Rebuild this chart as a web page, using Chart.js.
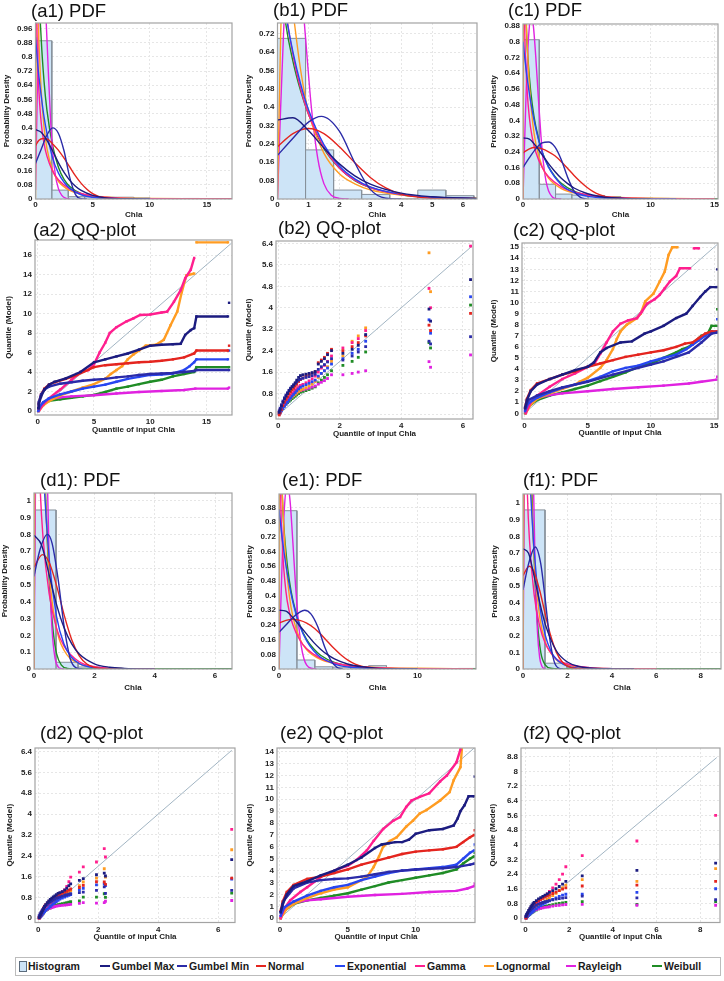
<!DOCTYPE html>
<html><head><meta charset="utf-8">
<script src="https://cdn.jsdelivr.net/npm/chart.js@4.4.1/dist/chart.umd.min.js"></script>
<style>
html,body{margin:0;padding:0;background:#fff}
body{width:724px;height:981px;position:relative;overflow:hidden;font-family:"Liberation Sans",Arial,sans-serif}
canvas{position:absolute}
.ttl{position:absolute;font-size:18.5px;line-height:1;color:#111;white-space:nowrap}
.lg{position:absolute;font-size:10.5px;font-weight:bold;color:#1a1a1a;white-space:nowrap;line-height:1}
.ln{position:absolute;width:10px;height:2px}
</style></head><body>
<script>
// ---------------- DATA ----------------
const seriesNames = ['Gumbel Max','Gumbel Min','Normal','Exponential','Gamma','Lognormal','Rayleigh','Weibull'];
const titles = ['(a1) PDF','(b1) PDF','(c1) PDF','(a2) QQ-plot','(b2) QQ-plot','(c2) QQ-plot','(d1): PDF','(e1): PDF','(f1): PDF','(d2) QQ-plot','(e2) QQ-plot','(f2) QQ-plot'];

// tick labels
const ticksPdf96 = [0,0.08,0.16,0.24,0.32,0.4,0.48,0.56,0.64,0.72,0.8,0.88,0.96];
const ticksPdf72 = [0,0.08,0.16,0.24,0.32,0.4,0.48,0.56,0.64,0.72];
const ticksPdf88 = [0,0.08,0.16,0.24,0.32,0.4,0.48,0.56,0.64,0.72,0.8,0.88];
const ticksPdf1 = [0,0.1,0.2,0.3,0.4,0.5,0.6,0.7,0.8,0.9,1];
const ticksX5 = [0,5,10,15];
const ticksX5b = [0,5,10];
const ticksX1 = [0,1,2,3,4,5,6];
const ticksX2 = [0,2,4,6];
const ticksX2b = [0,2,4,6,8];
const ticksQa = [0,2,4,6,8,10,12,14,16];
const ticksQb = [0,0.8,1.6,2.4,3.2,4,4.8,5.6,6.4];
const ticksQc = [0,1,2,3,4,5,6,7,8,9,10,11,12,13,14,15];
const ticksQe = [0,1,2,3,4,5,6,7,8,9,10,11,12,13,14];
const ticksQf = [0,0.8,1.6,2.4,3.2,4,4.8,5.6,6.4,7.2,8,8.8];

// ---- (a1) PDF ----
const a1Edges = [0,1.43,2.87,4.3,5.73,7.17,8.6,10.03,11.47,12.9,14.33,15.77,17.2];
const a1Hist = [0.89,0.05,0.013,0.012,0.01,0.01,0.006,0.002,0.002,0.003,0.002,0.002];
const a1GMax = [[0,0.39],[0.5,0.375],[1,0.33],[1.5,0.27],[2,0.205],[2.5,0.15],[3,0.105],[3.5,0.072],[4,0.048],[5,0.02],[6,0.008],[7,0.003],[8,0.001],[10,0]];
const a1GMin = [[0,0.2],[0.5,0.28],[1,0.36],[1.5,0.4],[2,0.37],[2.5,0.27],[3,0.12],[3.5,0.025],[4,0.002],[4.5,0]];
const a1Norm = [[0,0.3],[0.3,0.33],[0.7,0.34],[1.1,0.335],[1.5,0.31],[2,0.275],[2.5,0.23],[3,0.18],[3.5,0.13],[4,0.088],[4.5,0.055],[5,0.03],[5.5,0.015],[6,0.007],[7,0.001],[8,0]];
const a1Exp = [[0,0.91],[0.25,0.72],[0.5,0.58],[0.75,0.46],[1,0.37],[1.5,0.23],[2,0.147],[2.5,0.094],[3,0.06],[4,0.024],[5,0.01],[6,0.004],[8,0.0006],[10,0]];
const a1Gam = [[0.02,2.67],[0.1,1.15],[0.25,0.68],[0.5,0.429],[0.75,0.312],[1,0.241],[1.5,0.157],[2,0.108],[3,0.056],[4,0.031],[5,0.0175],[6,0.0102],[8,0.0035],[10,0.0013],[14,0.0002],[17.2,0]];
const a1Logn = [[0,0],[0.05,0.97],[0.1,1.18],[0.2,1.07],[0.3,0.883],[0.5,0.607],[0.75,0.404],[1,0.285],[1.5,0.161],[2,0.1],[3,0.048],[4,0.027],[5,0.0165],[7,0.0075],[10,0.003],[14,0.0012],[17.2,0.0006]];
const a1Rayl = [[0,0.05],[0.1,0.4],[0.2,0.75],[0.3,1.02],[0.5,1.3],[0.7,1.25],[0.9,1.05],[1.1,0.75],[1.3,0.47],[1.5,0.27],[1.75,0.13],[2,0.06],[2.3,0.02],[2.7,0.003],[3,0]];
const a1Weib = [[0.02,3],[0.1,1.9],[0.25,1.3],[0.5,0.9],[0.75,0.66],[1,0.5],[1.5,0.3],[2,0.18],[2.5,0.11],[3,0.07],[4,0.03],[5,0.013],[6,0.006],[8,0.0015],[10,0.0004],[17.2,0]];

// ---- (b1) PDF ----
const b1Edges = [0,0.907,1.814,2.721,3.629,4.536,5.443,6.35];
const b1Hist = [0.7,0.214,0.039,0.02,0,0.039,0.0145];
const b1GMax = [[0,0.344],[0.5,0.354],[1,0.298],[1.5,0.222],[2,0.153],[2.5,0.101],[3,0.065],[4,0.0254],[5,0.0097],[6.45,0.0025]];
const b1GMin = [[0,0.19],[0.5,0.265],[1,0.335],[1.42,0.36],[2,0.296],[2.5,0.158],[3,0.042],[3.5,0.0035],[4,0]];
const b1Norm = [[0,0.228],[0.5,0.285],[1,0.307],[1.5,0.285],[2,0.228],[2.5,0.158],[3,0.094],[3.5,0.048],[4,0.021],[5,0.0027],[6,0]];
const b1Exp = [[0,1.05],[0.25,0.82],[0.5,0.64],[0.75,0.5],[1,0.39],[1.5,0.237],[2,0.144],[2.5,0.088],[3,0.053],[4,0.02],[5,0.0072],[6.45,0.0017]];
const b1Gam = [[0.02,2],[0.1,1.25],[0.25,0.87],[0.5,0.63],[0.75,0.48],[1,0.37],[1.5,0.225],[2,0.135],[2.5,0.082],[3,0.05],[4,0.019],[5,0.007],[6.45,0.0018]];
const b1Logn = [[0,0],[0.1,0.7],[0.2,1.05],[0.35,1],[0.5,0.82],[0.75,0.56],[1,0.38],[1.5,0.2],[2,0.11],[2.5,0.066],[3,0.04],[4,0.017],[5,0.008],[6.45,0.0035]];
const b1Rayl = [[0,0],[0.05,0.199],[0.1,0.392],[0.2,0.738],[0.3,1],[0.5,1.213],[0.7,1.05],[0.9,0.713],[1.1,0.392],[1.3,0.178],[1.5,0.067],[1.75,0.015],[2,0.003],[2.3,0]];
const b1Weib = [[0.02,1.3],[0.1,0.98],[0.25,0.78],[0.5,0.6],[0.75,0.47],[1,0.37],[1.5,0.22],[2,0.135],[2.5,0.08],[3,0.05],[4,0.018],[5,0.007],[6.45,0.002]];

// ---- (c1) PDF ----
const c1Edges = [0,1.275,2.55,3.825,5.1,6.375,7.65,8.925,10.2,11.475,12.75,14.025,15.3];
const c1Hist = [0.81,0.075,0.025,0.02,0.018,0.012,0.005,0.004,0.003,0,0,0.001];
const c1GMax = [[0,0.31],[0.5,0.305],[1,0.27],[1.5,0.225],[2,0.18],[2.5,0.14],[3,0.105],[3.5,0.078],[4,0.056],[5,0.028],[6,0.013],[7,0.006],[8,0.0025],[10,0]];
const c1GMin = [[0,0.16],[0.5,0.21],[1,0.255],[1.5,0.285],[2,0.29],[2.5,0.265],[3,0.2],[3.5,0.11],[4,0.04],[4.5,0.008],[5,0]];
const c1Norm = [[0,0.235],[0.5,0.255],[0.9,0.262],[1.5,0.255],[2,0.24],[2.5,0.22],[3,0.19],[3.5,0.155],[4,0.12],[4.5,0.088],[5,0.06],[5.5,0.038],[6,0.022],[6.5,0.012],[7,0.006],[8,0.001],[9,0]];
const c1Exp = [[0,0.8],[0.25,0.655],[0.5,0.536],[1,0.359],[1.5,0.241],[2,0.162],[3,0.073],[4,0.033],[5,0.0147],[6,0.0066],[8,0.0013],[10,0.0003],[12,0]];
const c1Gam = [[0.02,2.5],[0.1,1.085],[0.25,0.646],[0.5,0.413],[0.75,0.305],[1,0.239],[1.5,0.16],[2,0.113],[3,0.062],[4,0.036],[5,0.0216],[6,0.0132],[8,0.0052],[10,0.0021],[15,0.0006]];
const c1Logn = [[0,0],[0.05,0.93],[0.1,1.09],[0.2,0.99],[0.3,0.825],[0.5,0.577],[0.75,0.393],[1,0.283],[1.5,0.165],[2,0.106],[3,0.053],[4,0.0308],[5,0.0195],[7,0.0093],[10,0.004],[15,0.0014]];
const c1Rayl = [[0,0],[0.1,0.234],[0.25,0.55],[0.4,0.783],[0.55,0.91],[0.65,0.934],[0.8,0.888],[1,0.724],[1.2,0.517],[1.4,0.326],[1.6,0.183],[1.8,0.092],[2,0.042],[2.3,0.0104],[2.6,0.0016],[3,0]];
const c1Weib = [[0.02,2.2],[0.1,1.35],[0.25,0.9],[0.5,0.62],[0.75,0.47],[1,0.37],[1.5,0.24],[2,0.165],[2.5,0.115],[3,0.08],[4,0.04],[5,0.02],[6,0.01],[8,0.003],[10,0.001],[15.3,0]];

// ---- (d1) PDF ----
const d1Edges = [0,0.73,1.46,2.19,2.92,3.65,4.38,5.11,5.84,6.56];
const d1Hist = [0.945,0.04,0.012,0.004,0.002,0,0,0,0.003];
const d1GMax = [[0,0.795],[0.25,0.737],[0.5,0.561],[0.75,0.381],[1,0.243],[1.25,0.149],[1.5,0.089],[2,0.031],[2.5,0.0105],[3,0.0036],[4,0]];
const d1GMin = [[0,0.55],[0.2,0.71],[0.44,0.8],[0.6,0.747],[0.8,0.533],[1,0.25],[1.2,0.061],[1.4,0.006],[1.6,0]];
const d1Norm = [[0,0.605],[0.28,0.68],[0.5,0.634],[0.75,0.494],[1,0.32],[1.25,0.174],[1.5,0.0785],[1.75,0.0297],[2,0.0093],[2.5,0.0005],[3,0]];
const d1Exp = [[0,3],[0.1,2.2],[0.25,1.41],[0.5,0.66],[0.75,0.31],[1,0.145],[1.25,0.068],[1.5,0.032],[2,0.007],[2.5,0.0015],[3,0]];
const d1Gam = [[0.01,6],[0.05,2.7],[0.1,1.8],[0.2,1.1],[0.3,0.78],[0.5,0.45],[0.75,0.24],[1,0.135],[1.5,0.043],[2,0.014],[3,0.0015],[4,0]];
const d1Logn = [[0,0],[0.05,2.23],[0.1,2.98],[0.2,2.2],[0.3,1.4],[0.5,0.593],[0.75,0.239],[1,0.11],[1.5,0.0314],[2,0.0114],[3,0.0023],[4,0.0006]];
const d1Rayl = [[0,0],[0.02,0.451],[0.05,1.1],[0.1,2.02],[0.21,2.89],[0.3,2.46],[0.4,1.48],[0.5,0.667],[0.6,0.23],[0.7,0.062],[0.8,0.013],[0.9,0.002],[1,0]];
const d1Weib = [[0,0],[0.03,1.2],[0.08,2],[0.15,2.3],[0.25,1.8],[0.35,1.2],[0.45,0.72],[0.55,0.4],[0.65,0.2],[0.75,0.09],[0.9,0.025],[1.1,0.004],[1.5,0],[6.56,0]];

// ---- (e1) PDF ----
const e1Edges = [0,1.293,2.586,3.879,5.172,6.465,7.758,9.051,10.344,11.637,12.93,14.22];
const e1Hist = [0.862,0.049,0.012,0.01,0.006,0.018,0.003,0.002,0.001,0.002,0.003];
const e1GMax = [[0,0.32],[0.5,0.315],[1,0.28],[1.5,0.235],[2,0.19],[2.5,0.145],[3,0.108],[3.5,0.078],[4,0.055],[5,0.026],[6,0.012],[7,0.005],[8,0.002],[10,0]];
const e1GMin = [[0,0.2],[0.5,0.24],[1,0.28],[1.5,0.31],[1.85,0.32],[2.3,0.3],[2.8,0.23],[3.3,0.12],[3.8,0.04],[4.2,0.008],[4.6,0]];
const e1Norm = [[0,0.25],[0.5,0.265],[1,0.27],[1.5,0.265],[2,0.25],[2.5,0.225],[3,0.19],[3.5,0.15],[4,0.11],[4.5,0.075],[5,0.047],[5.5,0.027],[6,0.014],[7,0.003],[8,0]];
const e1Exp = [[0,0.87],[0.25,0.7],[0.5,0.565],[1,0.365],[1.5,0.236],[2,0.153],[2.5,0.099],[3,0.064],[4,0.027],[5,0.011],[6,0.0047],[8,0.0008],[10,0]];
const e1Gam = [[0.02,2.61],[0.1,1.126],[0.25,0.667],[0.5,0.423],[0.75,0.31],[1,0.241],[1.5,0.158],[2,0.11],[3,0.058],[4,0.0327],[5,0.0189],[6,0.0112],[8,0.0041],[10,0.0015],[14,0.0003]];
const e1Logn = [[0,0],[0.05,0.95],[0.1,1.12],[0.2,1.01],[0.3,0.84],[0.5,0.585],[0.75,0.397],[1,0.285],[1.5,0.165],[2,0.105],[3,0.052],[4,0.03],[5,0.019],[7,0.009],[10,0.0038],[14,0.0015]];
const e1Rayl = [[0,0],[0.1,0.274],[0.25,0.637],[0.4,0.89],[0.6,1.011],[0.8,0.914],[1,0.692],[1.2,0.45],[1.4,0.255],[1.6,0.127],[1.8,0.056],[2,0.0215],[2.3,0.004],[2.7,0]];
const e1Weib = [[0.02,2.3],[0.1,1.4],[0.25,0.93],[0.5,0.64],[0.75,0.48],[1,0.375],[1.5,0.24],[2,0.16],[2.5,0.11],[3,0.075],[4,0.036],[5,0.018],[6,0.009],[8,0.0025],[10,0.0008],[14.22,0]];

// ---- (f1) PDF ----
const f1Edges = [0,0.99,1.98,2.97,3.96,4.95,5.94,6.93,7.92,8.91];
const f1Hist = [0.96,0.035,0.01,0.004,0.002,0.001,0,0,0.002];
const f1GMax = [[0,0.726],[0.25,0.698],[0.5,0.56],[0.75,0.403],[1,0.271],[1.5,0.11],[2,0.042],[2.5,0.016],[3,0.006],[4,0.0008],[5,0]];
const f1GMin = [[0,0.477],[0.25,0.634],[0.55,0.736],[0.8,0.634],[1,0.42],[1.2,0.187],[1.4,0.046],[1.6,0.005],[1.8,0]];
const f1Norm = [[0,0.564],[0.28,0.62],[0.5,0.585],[0.75,0.475],[1,0.331],[1.25,0.199],[1.5,0.102],[1.75,0.0455],[2,0.0173],[2.5,0.0016],[3,0]];
const f1Exp = [[0,2.5],[0.1,1.947],[0.25,1.338],[0.5,0.716],[0.75,0.383],[1,0.205],[1.25,0.11],[1.5,0.059],[2,0.0168],[2.5,0.0048],[3,0.0014],[4,0]];
const f1Gam = [[0.01,5.5],[0.05,2.5],[0.1,1.7],[0.2,1.05],[0.3,0.76],[0.5,0.45],[0.75,0.26],[1,0.155],[1.5,0.06],[2,0.03],[3,0.008],[4,0.0025],[5,0.0008],[6,0]];
const f1Logn = [[0,0],[0.05,1.71],[0.1,2.4],[0.2,1.99],[0.3,1.39],[0.5,0.685],[0.75,0.318],[1,0.165],[1.5,0.056],[2,0.0233],[3,0.0058],[4,0.0019],[6,0.0003]];
const f1Rayl = [[0,0],[0.02,0.377],[0.05,0.923],[0.1,1.72],[0.23,2.64],[0.35,2.08],[0.45,1.26],[0.55,0.597],[0.65,0.226],[0.75,0.069],[0.85,0.017],[1,0]];
const f1Weib = [[0,0],[0.03,1],[0.08,1.8],[0.15,2.1],[0.25,1.8],[0.35,1.3],[0.45,0.85],[0.55,0.5],[0.65,0.28],[0.8,0.1],[1,0.025],[1.3,0.003],[1.6,0],[8.91,0]];

// ---- (a2) QQ ----  [input quantile, model quantile]; null marks a break
const a2Diag = [0,17.2];
const a2GMax = [[0.05,0.3],[0.1,0.7],[0.3,1.5],[0.6,2.2],[1,2.7],[1.5,3],[2.5,3.35],[3.8,4],[5,5],[6,5.3],[7,5.6],[8,5.9],[9,6.3],[10,6.7],[11,6.8],[12,6.85],[12.7,6.9],[13.1,7.8],[13.6,8.3],[13.9,8.5],[14.1,9.7],[16.9,9.7],[16.95,null],[17,11.1]];
const a2GMin = [[0.05,0.3],[0.1,0.9],[0.3,1.7],[0.6,2.2],[1,2.5],[2,2.8],[3,2.95],[4,3.1],[5,3.2],[6,3.3],[7,3.45],[8,3.55],[9,3.7],[10,3.8],[11,3.85],[12,3.9],[13,4],[13.9,4.1],[14.1,4.2],[17,4.2]];
const a2Norm = [[0.05,0.3],[0.1,0.8],[0.3,1.7],[0.6,2.3],[1,2.7],[1.5,2.95],[2.5,3.3],[3.5,3.7],[5,4.5],[6,4.7],[7,4.8],[8,4.9],[9,5],[10,5.05],[11,5.15],[12,5.3],[13,5.5],[13.9,5.9],[14.1,6.2],[16.9,6.2],[16.95,null],[17,6.7]];
const a2Exp = [[0.05,0],[0.2,0.5],[0.5,0.9],[1,1.3],[2,1.7],[3,2],[4,2.3],[5,2.5],[6,2.7],[7,3],[8,3.3],[9,3.5],[10,3.7],[11,3.75],[12,3.85],[13,4.2],[13.5,4.6],[13.9,5],[14.1,5.3],[16.9,5.3],[16.95,null],[17,6.2]];
const a2Gam = [[0.1,0],[0.5,0.7],[1,1.3],[2,2.2],[3,3.2],[3.8,4],[4.5,4.2],[5,4.8],[5.5,6],[6,7],[6.4,8],[7,8.6],[7.9,9.2],[8.5,9.5],[9.1,9.85],[10,9.9],[11,10.1],[11.5,10.2],[12.1,11.2],[12.7,12.4],[13.1,13.6],[13.6,14.5],[13.9,15.7]];
const a2Logn = [[0.1,0],[0.5,0.6],[1,1],[2,1.6],[3,2],[4,2.4],[5,2.75],[6,3.3],[6.5,3.8],[7,4.2],[7.5,4.6],[8,5.3],[8.5,5.8],[9,6.2],[9.6,6.7],[10.5,6.8],[11.2,7.3],[11.8,8.8],[12.4,10.2],[12.8,12.2],[13.2,13.9],[13.9,14.1],[14,null],[14.1,17.3],[16.9,17.3]];
const a2Rayl = [[0.05,0],[0.2,0.5],[0.5,0.9],[1,1.2],[2,1.4],[3,1.5],[5,1.62],[7,1.8],[9,1.95],[11,2.05],[13,2.15],[14,2.3],[16.9,2.3],[16.95,null],[17,2.4]];
const a2Weib = [[0.05,0],[0.2,0.4],[0.5,0.8],[1,1.05],[2,1.2],[3,1.35],[4,1.5],[5,1.65],[6,1.95],[7,2.3],[8,2.5],[9,2.75],[10,3],[11,3.2],[12,3.55],[13,3.8],[13.9,4],[14.1,4.5],[17,4.5]];

// ---- (b2) QQ ---- common input quantiles, one model-quantile list per distribution
const b2X = [0.03,0.06,0.1,0.15,0.2,0.25,0.3,0.35,0.4,0.45,0.5,0.55,0.6,0.66,0.72,0.8,0.9,1,1.1,1.2,1.3,1.4,1.5,1.6,1.73,2.1,2.4,2.6,2.84,4.9,4.95,6.25];
const b2Diag = [0,6.3];
const b2GMax = [0.1,0.2,0.33,0.47,0.6,0.7,0.8,0.9,0.98,1.05,1.12,1.2,1.3,1.4,1.47,1.5,1.52,1.55,1.58,1.62,1.9,2,2.1,2.25,2.4,2.3,2.45,2.6,3,3.95,3.5,5.05];
const b2GMin = [0.15,0.25,0.38,0.52,0.64,0.74,0.83,0.92,1,1.06,1.12,1.18,1.24,1.3,1.34,1.37,1.4,1.43,1.47,1.52,1.7,1.8,1.88,1.98,2.1,2.05,2.2,2.35,2.55,2.75,2.65,2.92];
const b2Norm = [0,0.08,0.2,0.35,0.48,0.58,0.68,0.78,0.86,0.94,1,1.08,1.15,1.25,1.32,1.38,1.45,1.5,1.56,1.62,1.95,2.05,2.15,2.3,2.45,2.4,2.55,2.7,2.95,3.35,3.15,3.79];
const b2Exp = [0.03,0.08,0.15,0.24,0.32,0.4,0.48,0.56,0.63,0.7,0.77,0.83,0.9,0.97,1.03,1.08,1.13,1.18,1.24,1.3,1.45,1.55,1.65,1.75,1.9,2.1,2.3,2.45,2.75,3.55,3.05,4.41];
const b2Gam = [0.05,0.12,0.22,0.33,0.42,0.5,0.58,0.66,0.73,0.8,0.86,0.92,0.98,1.05,1.1,1.14,1.2,1.27,1.35,1.45,1.6,1.75,1.85,2,2.2,2.5,2.7,2.85,3.15,4.72,4,6.3];
const b2Logn = [0.08,0.15,0.24,0.32,0.39,0.45,0.51,0.57,0.62,0.67,0.72,0.77,0.82,0.88,0.93,0.97,1.02,1.08,1.15,1.25,1.4,1.55,1.65,1.8,2,2.2,2.75,2.95,3.25,6.05,4.6,null];
const b2Rayl = [0.12,0.2,0.28,0.36,0.43,0.49,0.55,0.6,0.65,0.7,0.75,0.79,0.83,0.87,0.91,0.94,0.97,1,1.04,1.08,1.15,1.22,1.28,1.36,1.5,1.5,1.55,1.6,1.65,1.99,1.78,2.24];
const b2Weib = [0.1,0.16,0.23,0.3,0.36,0.41,0.46,0.51,0.56,0.61,0.66,0.7,0.75,0.8,0.85,0.88,0.91,0.95,1,1.05,1.2,1.3,1.4,1.5,1.65,1.85,2,2.15,2.35,2.7,2.5,4.1];

// ---- (c2) QQ ----
const c2Diag = [0,15.25];
const c2GMax = [[0.05,0.5],[0.2,1.2],[0.5,2],[1,2.6],[2,3.1],[3,3.5],[4,3.9],[5,4.2],[5.5,4.6],[6,5.5],[6.5,5.9],[7.6,6.4],[8.5,6.5],[9.5,7.2],[10,7.4],[11,7.9],[12,8.6],[12.8,9],[13.3,9.7],[13.9,10.5],[14.3,11],[14.7,11.4],[15.2,11.4],[15.22,null],[15.25,13]];
const c2GMin = [[0.05,0.4],[0.3,1.2],[1,1.6],[2,2],[3,2.35],[5,2.85],[7,3.5],[9,4.1],[10,4.4],[11,4.7],[12,5.1],[13,5.5],[14,6.4],[14.8,7.2],[15.25,7.3]];
const c2Norm = [[0.05,0.5],[0.2,1.3],[0.5,2.1],[1,2.7],[2,3.1],[3,3.5],[4,3.8],[5,4.2],[6,4.5],[7,4.8],[8,5.1],[9,5.3],[10,5.5],[11,5.7],[12,6],[12.7,6.3],[13.3,6.4],[13.8,6.8],[14.3,7.2],[14.8,7.4],[15.25,7.4]];
const c2Exp = [[0.05,0.2],[0.3,0.9],[1,1.4],[2,1.9],[3,2.3],[4,2.6],[5,2.9],[6,3.3],[7,3.8],[8,4.1],[9,4.3],[10,4.7],[11,5],[12,5.3],[12.8,5.8],[13.3,6.2],[13.8,6.6],[14.3,7],[14.8,7.4],[15.2,7.4],[15.22,null],[15.25,8.5]];
const c2Gam = [[0.1,0],[0.5,1],[1,1.6],[2,2.4],[3,3.1],[4,3.6],[5,4.2],[5.5,4.4],[6,5.4],[6.5,6.4],[7,7.4],[7.6,8.1],[8.2,8.4],[8.9,8.6],[9.3,9.2],[9.7,9.9],[10.3,10.3],[10.7,10.7],[11.1,11.3],[11.5,11.9],[12,12.4],[12.3,13.1],[13.1,13.1],[13.25,null],[13.4,14.9],[13.8,14.9]];
const c2Logn = [[0.1,0],[0.5,0.8],[1,1.3],[2,1.8],[3,2.2],[4,2.6],[4.4,2.86],[5,3.2],[6,4.1],[6.5,4.8],[7,5.8],[7.3,6.7],[7.6,7.4],[8.1,8],[8.9,8.6],[9.2,9],[9.55,10.1],[10.2,10.8],[10.7,11.9],[11.1,12.8],[11.4,14.3],[11.7,15],[12.1,15]];
const c2Rayl = [[0.05,0.2],[0.3,0.9],[1,1.4],[2,1.65],[3,1.8],[5,2],[7,2.2],[9,2.35],[11,2.5],[13,2.7],[14,2.85],[15.2,3.05],[15.22,null],[15.25,3.3]];
const c2Weib = [[0.05,0],[0.3,0.6],[1,1.2],[2,1.6],[3,1.9],[4,2.2],[5,2.5],[6,2.9],[7,3.3],[8,3.7],[9,4.2],[10,4.5],[11,5],[12,5.5],[12.5,5.8],[13,6],[13.5,6.5],[14,7],[14.5,7.2],[14.8,7.9],[15.2,7.9],[15.22,null],[15.25,9.4]];

// ---- (d2) QQ ----
const d2X = [0.03,0.06,0.09,0.12,0.15,0.18,0.21,0.25,0.3,0.35,0.4,0.45,0.5,0.55,0.6,0.66,0.72,0.8,0.88,0.95,1.02,1.08,1.37,1.5,1.94,2.2,2.24,6.45];
const d2Diag = [0,6.45];
const d2GMax = [0.02,0.08,0.15,0.22,0.3,0.38,0.45,0.52,0.6,0.66,0.72,0.77,0.82,0.86,0.9,0.95,0.98,1.02,1.08,1.15,1.25,1.32,1.45,1.52,1.67,1.73,1.62,2.25];
const d2GMin = [0.1,0.16,0.22,0.28,0.33,0.38,0.43,0.48,0.53,0.58,0.62,0.66,0.7,0.73,0.76,0.79,0.82,0.85,0.88,0.9,0.92,0.94,0.98,1,1.07,1.2,0.95,1.07];
const d2Norm = [0,0.1,0.18,0.26,0.33,0.4,0.46,0.52,0.58,0.63,0.68,0.72,0.76,0.8,0.84,0.88,0.91,0.95,0.99,1.03,1.08,1.12,1.18,1.26,1.4,1.39,1.3,1.54];
const d2Exp = [0,0.04,0.08,0.12,0.17,0.21,0.25,0.3,0.35,0.4,0.45,0.5,0.55,0.6,0.64,0.69,0.73,0.77,0.81,0.85,0.88,0.91,1.08,1.15,1.28,1.32,1.25,1.5];
const d2Gam = [0,0.05,0.1,0.16,0.22,0.28,0.34,0.4,0.47,0.53,0.6,0.66,0.72,0.78,0.84,0.9,0.96,1.02,1.1,1.22,1.4,1.58,1.77,1.97,2.16,2.67,2.35,3.41];
const d2Logn = [0.02,0.05,0.09,0.13,0.17,0.21,0.25,0.3,0.36,0.42,0.48,0.54,0.6,0.66,0.72,0.78,0.83,0.88,0.93,0.98,1.02,1.06,1.25,1.39,1.54,1.9,1.58,2.63];
const d2Rayl = [0.05,0.09,0.13,0.17,0.21,0.25,0.28,0.31,0.34,0.37,0.39,0.41,0.43,0.45,0.46,0.47,0.48,0.49,0.5,0.51,0.52,0.53,0.57,0.6,0.58,0.6,0.65,0.68];
const d2Weib = [0.02,0.06,0.1,0.14,0.18,0.22,0.26,0.3,0.34,0.37,0.4,0.43,0.46,0.48,0.5,0.52,0.54,0.56,0.58,0.6,0.62,0.63,0.66,0.81,0.81,0.94,0.8,0.96];

// ---- (e2) QQ ----
const e2Diag = [0,14.3];
const e2GMax = [[0.05,0.5],[0.2,1.2],[0.5,2],[1,2.7],[2,3.1],[3,3.6],[4,4],[5,4.5],[6,5.1],[7,5.9],[7.5,6.2],[8,6.3],[8.5,6.4],[9,6.4],[9.5,6.6],[10,7.1],[11,7.4],[12,7.5],[12.8,7.8],[13.1,8.4],[13.3,9],[13.6,9.5],[13.9,10.25],[14.3,10.25],[14.32,null],[14.35,11.9]];
const e2GMin = [[0.05,0.5],[0.3,1.5],[1,2.5],[2,3],[3,3.2],[4,3.3],[5,3.35],[6,3.5],[7,3.7],[8,3.9],[9,4],[10,4.1],[11,4.15],[12,4.2],[13,4.3],[14,4.5],[14.35,4.6]];
const e2Norm = [[0.05,0.6],[0.2,1.4],[0.5,2.2],[1,2.8],[2,3.3],[3,3.5],[4,3.8],[5,4.1],[6,4.5],[7,4.8],[8,5.1],[9,5.4],[10,5.6],[11,5.7],[12,5.8],[13,6],[13.5,6.4],[14,6.8],[14.3,7],[14.32,null],[14.35,7.4]];
const e2Exp = [[0.05,0.2],[0.3,0.9],[1,1.4],[2,1.9],[3,2.3],[4,2.6],[5,2.8],[6,3.2],[7,3.5],[8,3.8],[9,4],[10,4.1],[11,4.2],[12,4.3],[13,4.5],[13.5,5],[14,5.5],[14.3,5.7],[14.32,null],[14.35,6.2]];
const e2Gam = [[0.05,0],[0.3,0.8],[0.75,1.5],[1.5,2.2],[2,2.6],[3.2,3.6],[4.4,4.2],[5,4.4],[5.65,4.9],[6.4,5.7],[6.9,6.5],[7.6,7.5],[8.35,8.2],[8.85,8.5],[9.3,9.35],[9.7,9.9],[10.3,10.2],[11,10.5],[11.8,11.5],[12.3,12],[13,13.1],[13.3,14.2]];
const e2Logn = [[0.05,0],[0.5,0.8],[1,1.2],[2,1.7],[3,2.1],[4,2.4],[5,2.6],[6,3.2],[6.4,3.45],[6.9,4.3],[7.3,5.2],[7.6,6],[8.1,6.5],[8.6,6.8],[9.3,7.7],[9.8,8.2],[10.3,8.8],[10.8,9.1],[11.8,9.9],[12.5,10.6],[12.8,11.6],[13.3,12.7],[13.4,14.2]];
const e2Rayl = [[0.05,0.2],[0.3,0.9],[1,1.3],[2,1.5],[3,1.6],[5,1.8],[7,1.95],[9,2.05],[11,2.2],[13,2.3],[13.8,2.5],[14.3,2.7],[14.32,null],[14.35,2.9]];
const e2Weib = [[0.05,0],[0.3,0.6],[1,1.2],[2,1.5],[3,1.7],[4,1.9],[5,2.1],[6,2.4],[7,2.7],[8,3],[9,3.2],[10,3.4],[11,3.6],[12,3.8],[13,4.1],[13.5,4.6],[14,5],[14.3,5.2],[14.32,null],[14.35,5.5]];

// ---- (f2) QQ ----
const f2X = [0.03,0.06,0.1,0.15,0.2,0.25,0.3,0.35,0.4,0.5,0.6,0.7,0.8,0.9,1,1.1,1.25,1.4,1.55,1.7,1.85,2.6,5.1,8.7];
const f2Diag = [0,8.75];
const f2GMax = [0.1,0.2,0.3,0.42,0.52,0.62,0.7,0.78,0.85,0.95,1.05,1.12,1.18,1.25,1.32,1.4,1.5,1.6,1.72,1.85,2,2.3,2.6,3];
const f2GMin = [0.1,0.17,0.25,0.33,0.4,0.46,0.52,0.57,0.62,0.7,0.76,0.81,0.85,0.89,0.92,0.95,0.99,1.03,1.06,1.09,1.12,1.2,1.1,1];
const f2Norm = [0,0.1,0.22,0.35,0.45,0.55,0.63,0.7,0.76,0.86,0.95,1.02,1.08,1.14,1.2,1.26,1.34,1.42,1.5,1.58,1.65,1.75,1.8,2];
const f2Exp = [0,0.04,0.09,0.15,0.21,0.27,0.32,0.37,0.42,0.51,0.6,0.68,0.75,0.82,0.88,0.94,1.02,1.1,1.18,1.25,1.3,1.3,1.4,1.6];
const f2Gam = [0,0.05,0.12,0.22,0.3,0.38,0.46,0.54,0.62,0.75,0.88,1,1.1,1.2,1.32,1.45,1.65,1.85,2.1,2.4,2.8,3.4,4.2,5.6];
const f2Logn = [0.02,0.06,0.12,0.19,0.25,0.31,0.37,0.43,0.49,0.6,0.7,0.78,0.86,0.94,1.02,1.1,1.22,1.35,1.5,1.65,1.8,2.1,2,2.7];
const f2Rayl = [0.06,0.1,0.15,0.2,0.25,0.3,0.34,0.38,0.41,0.46,0.5,0.53,0.56,0.58,0.6,0.62,0.65,0.68,0.7,0.72,0.74,0.75,0.7,0.7];
const f2Weib = [0.02,0.06,0.11,0.16,0.21,0.26,0.3,0.34,0.38,0.44,0.5,0.55,0.59,0.63,0.66,0.69,0.73,0.77,0.8,0.83,0.86,0.9,0.75,0.9];

// ---------------- STYLE / RENDER ----------------
Chart.defaults.font.family = '"Liberation Sans", Arial, sans-serif';
Chart.defaults.color = '#222';
const COLORS = ['#1c1c80','#2b2ba8','#e4251f','#2846f0','#ff1f8e','#ff9c22','#e022e0','#1f8c25'];
const HIST_FILL = '#cde4f7', HIST_LINE = '#87919b', DIAG = '#a2b5c3';
const PADT = 6, PADR = 4;

const framePlugin = {id:'frame', afterDraw(c){const a=c.chartArea, x=c.ctx; x.save(); x.strokeStyle='#a3a3a3'; x.lineWidth=1.2; x.strokeRect(a.left,a.top,a.right-a.left,a.bottom-a.top); x.restore();}};
const fmt = v => String(Math.round(v*1000)/1000);
const P = a => a.map(p => ({x:p[0], y:p[1]}));

function histDs(edges, h){
  const pts=[];
  for(let i=0;i<h.length;i++){pts.push({x:edges[i],y:0},{x:edges[i],y:h[i]},{x:edges[i+1],y:h[i]},{x:edges[i+1],y:0});}
  return {type:'line', data:pts, borderColor:HIST_LINE, borderWidth:1, backgroundColor:HIST_FILL, fill:'origin', pointRadius:0, tension:0, order:5};
}
function curveDs(arr,i){return {type:'line', data:P(arr), borderColor:COLORS[i], borderWidth:1.4, pointRadius:0, fill:false, cubicInterpolationMode:'monotone', order:1};}
function denseDs(arr,i){return {type:'line', data:P(arr), borderColor:COLORS[i], backgroundColor:COLORS[i], borderWidth:2.4, pointRadius:1.7, pointStyle:'rect', pointBorderWidth:0, spanGaps:false, tension:0, fill:false, order:1};}
function sparseDs(xs,ys,i){const d=[];xs.forEach((x,k)=>{if(ys[k]!==null)d.push({x,y:ys[k]});});return {type:'scatter', data:d, backgroundColor:COLORS[i], borderColor:COLORS[i], pointStyle:'rect', pointRadius:2, borderWidth:0, showLine:false, order:1};}
function diagDs(d){return {type:'line', data:[{x:d[0],y:d[0]},{x:d[1],y:d[1]}], borderColor:DIAG, borderWidth:1, pointRadius:0, fill:false, order:9};}

function axis(min,max,ticks,title,fit,pad,tpad){
  return {type:'linear', min, max,
    afterBuildTicks: s => { s.ticks = ticks.map(v => ({value:v})); },
    afterFit: fit,
    grid:{color:'#e6e6e6', lineWidth:1, drawTicks:false},
    border:{display:false, dash:[2,2]},
    ticks:{padding:pad, maxRotation:0, autoSkip:false, font:{size:8, weight:'bold'}, color:'#222', callback: v => fmt(v)},
    title:{display:true, text:title, font:{size:8, weight:'bold'}, color:'#222', padding:{top:tpad, bottom:0}}
  };
}

function panel(b, xr, yr, xt, yt, xTitle, yTitle, datasets){
  const L = Math.max(0, Math.round(b.tx - 7));
  const c = document.createElement('canvas');
  const W = Math.round(b.cr - L + PADR), H = Math.round(b.cb - b.ct + b.hx + PADT);
  c.width = W; c.height = H;
  c.style.left = L + 'px'; c.style.top = (b.ct - PADT) + 'px';
  document.body.appendChild(c);
  const wy = b.cl - L, hx = b.hx, pt = b.tx - L - 4.8;
  new Chart(c, {type:'line', data:{datasets},
    options:{responsive:false, animation:false, devicePixelRatio:1, layout:{padding:{top:PADT,right:PADR,left:0,bottom:0}},
      plugins:{legend:{display:false}, tooltip:{enabled:false}},
      scales:{
        x: axis(xr[0], xr[1], xt, xTitle, s => {s.height = hx; s.paddingLeft = 0; s.paddingRight = 0;}, b.xpad, 0),
        y: axis(yr[0], yr[1], yt, yTitle, s => {s.width = wy; s.paddingTop = 0; s.paddingBottom = 0;}, 3, pt)
      }},
    plugins:[framePlugin]});
}

function pdfSets(edges, hist, curves){ return [histDs(edges,hist)].concat(curves.map((c,i)=>curveDs(c,i))); }
function denseSets(diag, series){ return [diagDs(diag)].concat(series.map((s,i)=>denseDs(s,i))); }
function sparseSets(diag, xs, series){ return [diagDs(diag)].concat(series.map((s,i)=>sparseDs(xs,s,i))); }

const PD = 'Probability Density', QM = 'Quantile (Model)', QI = 'Quantile of input Chla';

panel({tx:6.7, cl:35.5, cr:232, ct:23, cb:199, hx:21, xpad:1}, [0,17.2], [0,0.99], ticksX5, ticksPdf96, 'Chla', PD,
  pdfSets(a1Edges, a1Hist, [a1GMax,a1GMin,a1Norm,a1Exp,a1Gam,a1Logn,a1Rayl,a1Weib]));
panel({tx:248.3, cl:277.5, cr:477, ct:23, cb:199, hx:21, xpad:1}, [0,6.45], [0,0.767], ticksX1, ticksPdf72, 'Chla', PD,
  pdfSets(b1Edges, b1Hist, [b1GMax,b1GMin,b1Norm,b1Exp,b1Gam,b1Logn,b1Rayl,b1Weib]));
panel({tx:493.3, cl:523, cr:718, ct:24, cb:199, hx:21, xpad:1}, [0,15.28], [0,0.89], ticksX5, ticksPdf88, 'Chla', PD,
  pdfSets(c1Edges, c1Hist, [c1GMax,c1GMin,c1Norm,c1Exp,c1Gam,c1Logn,c1Rayl,c1Weib]));

panel({tx:8.3, cl:35, cr:232, ct:240, cb:415, hx:20, xpad:2}, [-0.24,17.26], [-0.41,17.54], ticksX5, ticksQa, QI, QM,
  denseSets(a2Diag, [a2GMax,a2GMin,a2Norm,a2Exp,a2Gam,a2Logn,a2Rayl,a2Weib]));
panel({tx:248.3, cl:276, cr:473, ct:241, cb:419, hx:20, xpad:2}, [-0.075,6.33], [-0.15,6.49], ticksX2, ticksQb, QI, QM,
  sparseSets(b2Diag, b2X, [b2GMax,b2GMin,b2Norm,b2Exp,b2Gam,b2Logn,b2Rayl,b2Weib]));
panel({tx:493.3, cl:522, cr:718, ct:243, cb:419, hx:19, xpad:2}, [-0.19,15.31], [-0.51,15.38], ticksX5, ticksQc, QI, QM,
  denseSets(c2Diag, [c2GMax,c2GMin,c2Norm,c2Exp,c2Gam,c2Logn,c2Rayl,c2Weib]));

panel({tx:5, cl:34, cr:232, ct:493, cb:669, hx:24, xpad:1.5}, [0,6.56], [0,1.046], ticksX2, ticksPdf1, 'Chla', PD,
  pdfSets(d1Edges, d1Hist, [d1GMax,d1GMin,d1Norm,d1Exp,d1Gam,d1Logn,d1Rayl,d1Weib]));
panel({tx:250, cl:279, cr:476, ct:494, cb:669, hx:24, xpad:1.5}, [0,14.22], [0,0.953], ticksX5b, ticksPdf88, 'Chla', PD,
  pdfSets(e1Edges, e1Hist, [e1GMax,e1GMin,e1Norm,e1Exp,e1Gam,e1Logn,e1Rayl,e1Weib]));
panel({tx:495, cl:523, cr:721, ct:494, cb:669, hx:24, xpad:1.5}, [0,8.91], [0,1.056], ticksX2b, ticksPdf1, 'Chla', PD,
  pdfSets(f1Edges, f1Hist, [f1GMax,f1GMin,f1Norm,f1Exp,f1Gam,f1Logn,f1Rayl,f1Weib]));

panel({tx:9.3, cl:35, cr:235, ct:748, cb:922, hx:19.5, xpad:2}, [-0.11,6.56], [-0.166,6.54], ticksX2, ticksQb, QI, QM,
  sparseSets(d2Diag, d2X, [d2GMax,d2GMin,d2Norm,d2Exp,d2Gam,d2Logn,d2Rayl,d2Weib]));
panel({tx:249.3, cl:277, cr:475, ct:748, cb:922, hx:19.5, xpad:2}, [-0.22,14.37], [-0.36,14.31], ticksX5b, ticksQe, QI, QM,
  denseSets(e2Diag, [e2GMax,e2GMin,e2Norm,e2Exp,e2Gam,e2Logn,e2Rayl,e2Weib]));
panel({tx:493, cl:521, cr:720, ct:748, cb:922, hx:19.5, xpad:2}, [-0.2,8.9], [-0.24,9.27], ticksX2b, ticksQf, QI, QM,
  sparseSets(f2Diag, f2X, [f2GMax,f2GMin,f2Norm,f2Exp,f2Gam,f2Logn,f2Rayl,f2Weib]));

// titles
const titlePos = [[31,2.3],[273,1.3],[508,1.3],[33,221.3],[278,219.3],[513,221.3],[40,471.3],[282,471.3],[523,471.3],[40,724.3],[280,724.3],[523,724.3]];
titles.forEach((t,i)=>{const d=document.createElement('div'); d.className='ttl'; d.textContent=t; d.style.left=titlePos[i][0]+'px'; d.style.top=titlePos[i][1]+'px'; document.body.appendChild(d);});

// legend
const leg = document.createElement('div');
leg.style.cssText='position:absolute;left:15px;top:957px;width:704px;height:17px;border:1px solid #bcbcbc;background:#fff';
document.body.appendChild(leg);
const hi = document.createElement('div');
hi.style.cssText='position:absolute;left:19px;top:961px;width:6px;height:9px;border:1px solid #5a6b7c;background:'+HIST_FILL;
document.body.appendChild(hi);
const histLbl = document.createElement('div'); histLbl.className='lg'; histLbl.textContent='Histogram'; histLbl.style.left='28px'; histLbl.style.top='961px'; document.body.appendChild(histLbl);
const legX = [100,177,256,335,415,484,566,652];
seriesNames.forEach((n,i)=>{
  const l=document.createElement('div'); l.className='ln'; l.style.left=legX[i]+'px'; l.style.top='965px'; l.style.background=COLORS[i]; document.body.appendChild(l);
  const t=document.createElement('div'); t.className='lg'; t.textContent=n; t.style.left=(legX[i]+12)+'px'; t.style.top='961px'; document.body.appendChild(t);
});
</script>
</body></html>
